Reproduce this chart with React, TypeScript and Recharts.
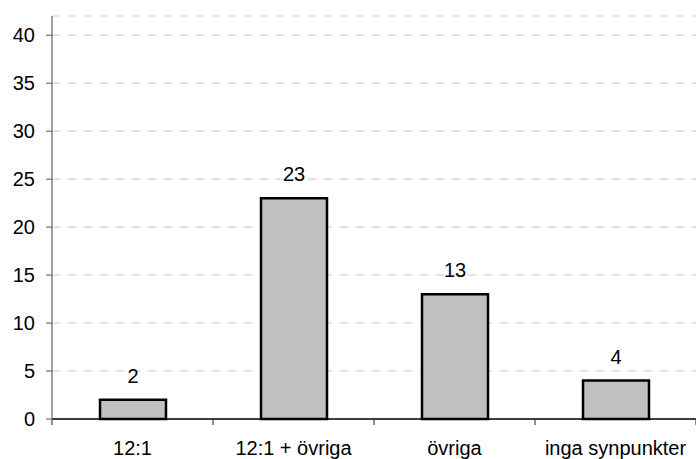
import { BarChart, Bar, XAxis, YAxis, CartesianGrid, LabelList } from "recharts";

const categories = ["12:1", "12:1 + övriga", "övriga", "inga synpunkter"];
const counts = [2, 23, 13, 4];
const yTicks = [0, 5, 10, 15, 20, 25, 30, 35, 40];

const data = categories.map((name, i) => ({ name, count: counts[i] }));

const W = 696;
const H = 459;
const Y_AXIS_W = 52;
const BAND = (W - Y_AXIS_W) / categories.length;
const FONT = "'Liberation Sans', Arial, sans-serif";

// category label plus the small tick marks sitting on the band edges
function CategoryTick(props: any) {
  const { x, y, payload, index } = props;
  const left = x - BAND / 2;
  const right = x + BAND / 2;
  return (
    <g>
      <line x1={left} y1={y} x2={left} y2={y + 6} stroke="#444" strokeWidth={1.2} />
      {index === categories.length - 1 && (
        <line x1={right} y1={y} x2={right} y2={y + 6} stroke="#444" strokeWidth={1.2} />
      )}
      <text x={x} y={y + 36} textAnchor="middle" fill="#000" fontSize={20} fontFamily={FONT}>
        {payload.value}
      </text>
    </g>
  );
}

export default function App() {
  return (
    <div style={{ position: "absolute", left: 0, top: 0, background: "#fff" }}>
      <BarChart
        width={W}
        height={H}
        data={data}
        margin={{ top: 16, right: 0, bottom: 0, left: 0 }}
        barCategoryGap="0%"
      >
        <CartesianGrid
          horizontal
          vertical={false}
          stroke="#c8c8c8"
          strokeDasharray="8 8"
        />
        <XAxis
          dataKey="name"
          height={40}
          interval={0}
          tickLine={false}
          tickSize={0}
          tickMargin={0}
          axisLine={{ stroke: "#000", strokeWidth: 1.5 }}
          tick={<CategoryTick />}
        />
        <YAxis
          width={Y_AXIS_W}
          domain={[0, 42]}
          ticks={yTicks}
          interval={0}
          tickSize={6}
          tickMargin={11}
          axisLine={{ stroke: "#808080", strokeWidth: 1.5 }}
          tickLine={{ stroke: "#555" }}
          tick={{ fill: "#000", fontSize: 20, fontFamily: FONT }}
        />
        <Bar
          dataKey="count"
          fill="#c0c0c0"
          stroke="#000"
          strokeWidth={2.5}
          barSize={66}
          isAnimationActive={false}
        >
          <LabelList
            dataKey="count"
            position="top"
            offset={17}
            fill="#000"
            fontSize={20}
            fontFamily={FONT}
          />
        </Bar>
      </BarChart>
    </div>
  );
}
